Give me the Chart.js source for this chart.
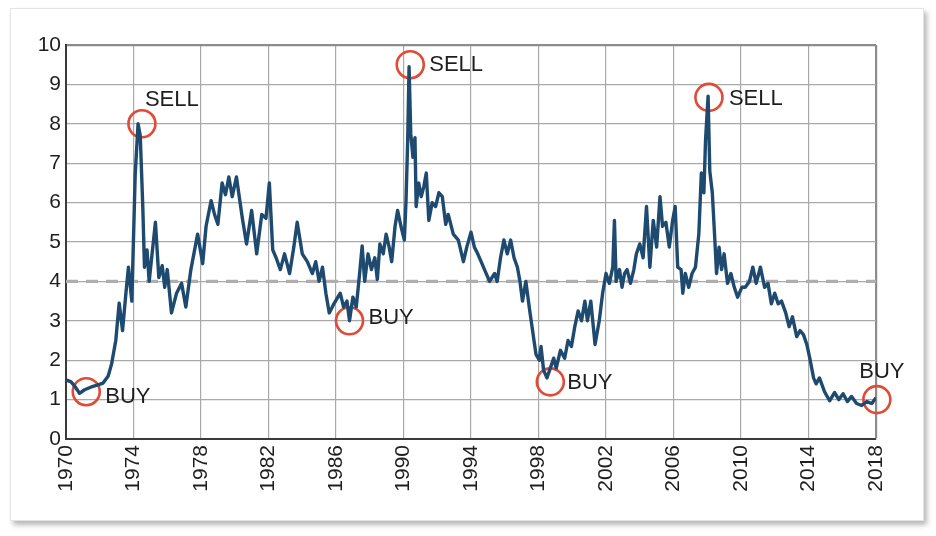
<!DOCTYPE html>
<html>
<head>
<meta charset="utf-8">
<script src="https://cdn.jsdelivr.net/npm/chart.js@4.4.1/dist/chart.umd.min.js"></script>
<style>
  html, body { margin: 0; padding: 0; background: #ffffff; }
  #wrap { position: relative; width: 936px; height: 536px; overflow: hidden; }
  #card { position: absolute; left: 10px; top: 8px; width: 912px; height: 511px;
          background: #fff; border: 1px solid #e4e4e4;
          box-shadow: 3px 4px 5px rgba(0,0,0,0.28); }
  #c { position: absolute; left: 0; top: 0; }
</style>
</head>
<body>
<div id="wrap">
  <div id="card"></div>
  <canvas id="c" width="936" height="536"></canvas>
</div>
<script>
// ---- data ----
const years = [
  1970.0,1970.3,1970.5,1970.8,1971.1,1971.5,1971.8,1972.2,1972.5,1972.7,1972.95,
  1973.15,1973.35,1973.55,1973.7,1973.9,1974.1,1974.27,1974.4,1974.55,1974.65,1974.8,1974.93,
  1975.1,1975.3,1975.5,1975.7,1975.85,1976.0,1976.25,1976.55,1976.85,1977.1,1977.4,1977.8,
  1978.1,1978.3,1978.6,1978.8,1979.0,1979.25,1979.45,1979.65,1979.85,1980.1,1980.45,1980.7,
  1981.0,1981.3,1981.6,1981.85,1982.05,1982.25,1982.45,1982.7,1982.95,1983.25,1983.5,1983.7,
  1984.0,1984.3,1984.6,1984.8,1985.0,1985.2,1985.4,1985.6,1985.9,1986.25,1986.45,1986.65,1986.8,
  1987.0,1987.2,1987.4,1987.55,1987.7,1987.9,1988.1,1988.3,1988.45,1988.6,1988.8,1988.97,
  1989.15,1989.3,1989.5,1989.65,1989.85,1990.05,1990.15,1990.25,1990.33,1990.43,1990.56,1990.68,
  1990.75,1990.9,1991.05,1991.2,1991.35,1991.5,1991.7,1991.9,1992.1,1992.3,1992.5,1992.65,
  1992.95,1993.25,1993.55,1993.75,1994.0,1994.2,1994.4,1994.6,1994.8,1995.1,1995.4,1995.55,
  1995.75,1995.95,1996.15,1996.35,1996.55,1996.75,1996.9,1997.05,1997.25,1997.45,1997.65,1997.85,
  1998.05,1998.15,1998.3,1998.5,1998.7,1998.9,1999.05,1999.3,1999.55,1999.75,1999.95,
  2000.15,2000.35,2000.55,2000.75,2000.9,2001.1,2001.35,2001.6,2001.8,2002.0,2002.2,2002.4,
  2002.5,2002.6,2002.8,2002.95,2003.1,2003.25,2003.45,2003.65,2003.8,2004.0,2004.2,2004.4,
  2004.6,2004.8,2005.0,2005.2,2005.35,2005.55,2005.75,2005.95,2006.1,2006.25,2006.45,2006.55,
  2006.7,2006.9,2007.1,2007.3,2007.5,2007.65,2007.8,2007.9,2008.05,2008.15,2008.3,2008.45,
  2008.55,2008.7,2008.85,2009.0,2009.2,2009.4,2009.6,2009.8,2010.05,2010.25,2010.5,2010.7,
  2010.9,2011.15,2011.4,2011.6,2011.8,2012.0,2012.2,2012.4,2012.65,2012.85,2013.05,2013.3,
  2013.5,2013.7,2013.9,2014.1,2014.3,2014.45,2014.65,2014.95,2015.25,2015.55,2015.8,2016.05,
  2016.3,2016.55,2016.85,2017.15,2017.45,2017.75,2018.0
];
const ratio = [
  1.50,1.45,1.35,1.16,1.25,1.32,1.36,1.42,1.60,1.90,2.50,
  3.45,2.75,3.70,4.36,3.50,6.70,8.00,7.70,5.90,4.36,4.80,4.00,
  4.70,5.50,4.10,4.40,3.85,4.30,3.20,3.70,3.95,3.35,4.30,5.20,
  4.45,5.40,6.05,5.70,5.45,6.50,6.20,6.65,6.15,6.65,5.60,4.95,
  5.80,4.70,5.70,5.60,6.50,4.80,4.60,4.30,4.70,4.20,4.87,5.50,
  4.70,4.50,4.20,4.50,4.00,4.36,3.70,3.20,3.45,3.70,3.35,3.50,3.00,
  3.60,3.35,4.20,4.90,4.00,4.70,4.30,4.60,4.05,4.95,4.70,5.20,
  4.87,4.50,5.40,5.80,5.40,5.05,6.05,7.60,9.45,7.75,7.15,7.65,
  5.90,6.50,6.15,6.40,6.75,5.55,6.00,5.90,6.25,6.15,5.45,5.70,
  5.20,5.05,4.50,4.87,5.25,4.87,4.70,4.50,4.30,4.00,4.20,4.00,
  4.60,5.05,4.70,5.05,4.60,4.36,4.00,3.50,4.00,3.35,2.75,2.15,
  2.00,2.35,1.75,1.55,1.80,2.05,1.80,2.25,2.05,2.50,2.35,
  2.85,3.25,3.00,3.50,3.00,3.50,2.40,3.00,3.70,4.20,3.95,4.36,
  5.55,4.00,4.30,3.85,4.20,4.30,3.95,4.30,4.70,4.95,4.60,5.90,
  4.36,5.55,4.87,6.15,5.40,5.50,4.87,5.55,5.90,4.36,4.30,3.70,
  4.20,3.85,4.20,4.36,5.20,6.75,6.25,7.60,8.70,6.80,6.25,5.05,
  4.20,4.87,4.30,4.70,3.95,4.20,3.85,3.60,3.85,3.85,4.00,4.36,
  3.95,4.36,3.85,3.95,3.43,3.70,3.43,3.50,3.20,2.85,3.10,2.60,
  2.75,2.65,2.40,2.00,1.55,1.40,1.55,1.20,0.97,1.18,1.00,1.15,
  0.95,1.08,0.90,0.85,0.95,0.90,1.05
];
const thresholdValue = 4;
const yTicks = [0,1,2,3,4,5,6,7,8,9,10];
const xTickYears = [1970,1974,1978,1982,1986,1990,1994,1998,2002,2006,2010,2014,2018];

// signal markers
const signalYears  = [1971.2, 1974.5, 1986.8, 1990.4, 1998.7, 2008.1, 2018.05];
const signalValues = [1.2, 8.0, 3.0, 9.5, 1.45, 8.67, 1.0];
const signalLabels = ['BUY', 'SELL', 'BUY', 'SELL', 'BUY', 'SELL', 'BUY'];

// label placement relative to marker (style only): [dx, dy, align]
const labelPlacement = [
  [19, 5, 'left'], [3, -24, 'left'], [19, -3, 'left'], [19, 0, 'left'],
  [17, 1, 'left'], [20, 2, 'left'], [5, -28, 'center']
];

const FONT = "'Liberation Sans', Arial, Helvetica, sans-serif";

const lineData = years.map((y, i) => ({ x: y, y: ratio[i] }));
const thresholdData = [{ x: xTickYears[0], y: thresholdValue }, { x: xTickYears[xTickYears.length - 1], y: thresholdValue }];
const signalData = signalYears.map((y, i) => ({ x: y, y: signalValues[i] }));

const signalLabelPlugin = {
  id: 'signalLabels',
  afterDatasetsDraw(chart) {
    const { ctx, scales } = chart;
    ctx.save();
    ctx.font = '22px ' + FONT;
    ctx.fillStyle = '#1e1e1e';
    ctx.textBaseline = 'middle';
    signalLabels.forEach((t, i) => {
      const px = scales.x.getPixelForValue(signalYears[i]);
      const py = scales.y.getPixelForValue(signalValues[i]);
      const p = labelPlacement[i];
      ctx.textAlign = p[2];
      ctx.fillText(t, px + p[0], py + p[1]);
    });
    ctx.restore();
  }
};

new Chart(document.getElementById('c'), {
  type: 'line',
  data: {
    datasets: [
      {
        data: lineData,
        borderColor: '#1e4a70',
        borderWidth: 3.4,
        pointRadius: 0,
        tension: 0,
        fill: false,
        borderJoinStyle: 'round',
        order: 0
      },
      {
        type: 'scatter',
        data: signalData,
        pointRadius: 13.5,
        pointStyle: 'circle',
        pointBorderColor: '#e04a36',
        pointBorderWidth: 2.6,
        pointBackgroundColor: 'rgba(0,0,0,0)',
        borderColor: '#e04a36',
        backgroundColor: 'rgba(0,0,0,0)',
        clip: false,
        order: 1
      },
      {
        data: thresholdData,
        borderColor: '#afafaf',
        borderWidth: 3.2,
        borderDash: [12, 8],
        pointRadius: 0,
        fill: false,
        order: 2
      }
    ]
  },
  options: {
    responsive: false,
    animation: false,
    devicePixelRatio: 1,
    layout: { padding: { left: 20, right: 60, top: 45, bottom: 30 } },
    plugins: { legend: { display: false }, tooltip: { enabled: false } },
    scales: {
      x: {
        type: 'linear',
        min: 1970,
        max: 2018,
        afterBuildTicks: (s) => { s.ticks = xTickYears.map(v => ({ value: v })); },
        afterFit: (s) => { s.height = 67; },
        ticks: {
          callback: (v) => String(v),
          maxRotation: 90,
          minRotation: 90,
          padding: 6,
          color: '#1e1e1e',
          font: { family: FONT, size: 21 }
        },
        grid: {
          drawTicks: false,
          color: (c) => (c.tick && c.tick.value === 2018) ? '#8c8c8c' : '#a9a9a9',
          lineWidth: (c) => (c.tick && c.tick.value === 2018) ? 2.2 : 1.2
        },
        border: { display: true, color: '#3a3a3a', width: 2 }
      },
      y: {
        min: 0,
        max: 10,
        afterBuildTicks: (s) => { s.ticks = yTicks.map(v => ({ value: v })); },
        afterFit: (s) => { s.width = 46; },
        ticks: {
          padding: 5,
          color: '#1e1e1e',
          font: { family: FONT, size: 21 }
        },
        grid: {
          drawTicks: false,
          color: (c) => (c.tick && c.tick.value === 10) ? '#8c8c8c' : '#a9a9a9',
          lineWidth: (c) => (c.tick && c.tick.value === 10) ? 2.2 : 1.2
        },
        border: { display: true, color: '#3a3a3a', width: 2 }
      }
    }
  },
  plugins: [signalLabelPlugin]
});
</script>
</body>
</html>
